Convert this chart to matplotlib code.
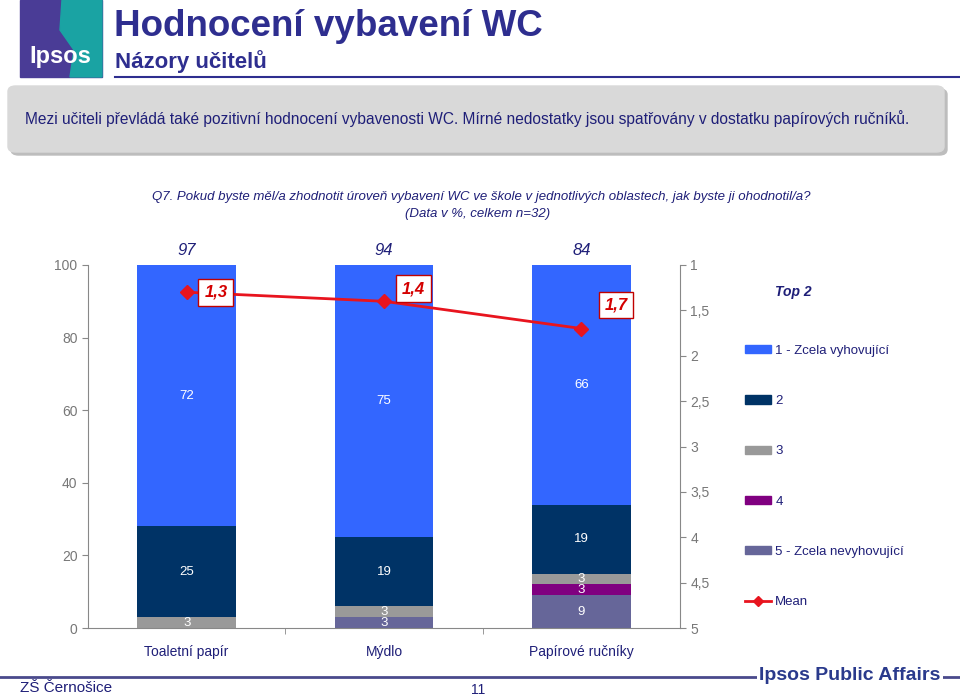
import numpy as np
import matplotlib
matplotlib.use('Agg')
import matplotlib.pyplot as plt
from matplotlib.patches import Rectangle, FancyBboxPatch, Polygon, Patch
from matplotlib.lines import Line2D

plt.rcParams['font.family'] = ['Liberation Sans', 'DejaVu Sans']

##########################
# data
##########################
categories = ['Toaletní papír', 'Mýdlo', 'Papírové ručníky']
levels = ['1 - Zcela vyhovující', '2', '3', '4', '5 - Zcela nevyhovující']
v1 = [72, 75, 66]
v2 = [25, 19, 19]
v3 = [3, 3, 3]
v4 = [0, 0, 3]
v5 = [0, 3, 9]
top2 = [97, 94, 84]
mean = [1.3, 1.4, 1.7]
mean_labels = ['1,3', '1,4', '1,7']
right_ticks = [1, 1.5, 2, 2.5, 3, 3.5, 4, 4.5, 5]
right_ticklabels = ['1', '1,5', '2', '2,5', '3', '3,5', '4', '4,5', '5']

colors = ['#3366ff', '#003366', '#999999', '#800080', '#666699']
navy = '#1f1f78'
title_col = '#2e2e8f'
axgray = '#888888'

##########################
# figure
##########################
W, H = 960, 696
fig = plt.figure(figsize=(9.6, 6.96), dpi=100)

def fx(px):
    return px / W

def fy(py):
    return 1 - py / H

# logo
fig.patches.append(Rectangle((fx(20), fy(77)), fx(82), 77 / H, transform=fig.transFigure,
                             color='#4a3c96', zorder=1))
fig.patches.append(Polygon([(fx(62), fy(0)), (fx(102), fy(0)), (fx(102), fy(77)),
                            (fx(70), fy(77)), (fx(74), fy(50)), (fx(60), fy(30))],
                           closed=True, transform=fig.transFigure, color='#1aa3a3', zorder=2))
fig.text(fx(60), fy(57), 'Ipsos', color='white', fontsize=17, fontweight='bold',
         ha='center', va='center', zorder=3)

# titles
fig.text(fx(114), fy(27), 'Hodnocení vybavení WC', color=title_col, fontsize=26.5,
         fontweight='bold', ha='left', va='center')
fig.text(fx(115), fy(62), 'Názory učitelů', color=title_col, fontsize=16,
         fontweight='bold', ha='left', va='center')
fig.add_artist(Line2D([fx(115), 1.0], [fy(77), fy(77)], color=title_col, lw=1.5))

# gray box
fig.patches.append(FancyBboxPatch((fx(11), fy(155)), fx(936), 66 / H,
                                  boxstyle='round,pad=0,rounding_size=0.008',
                                  transform=fig.transFigure, color='#bdbdbd', zorder=1))
fig.patches.append(FancyBboxPatch((fx(8), fy(152)), fx(936), 66 / H,
                                  boxstyle='round,pad=0,rounding_size=0.008',
                                  transform=fig.transFigure, color='#d9d9d9', zorder=2))
fig.text(fx(25), fy(119), 'Mezi učiteli převládá také pozitivní hodnocení vybavenosti WC. '
         'Mírné nedostatky jsou spatřovány v dostatku papírových ručníků.',
         color=navy, fontsize=11.2, ha='left', va='center', zorder=3)

# question
fig.text(fx(481), fy(197), 'Q7. Pokud byste měl/a zhodnotit úroveň vybavení WC ve škole '
         'v jednotlivých oblastech, jak byste ji ohodnotil/a?',
         color=navy, fontsize=9.5, style='italic', ha='center', va='center')
fig.text(fx(478), fy(214), '(Data v %, celkem n=32)', color=navy, fontsize=9.5,
         style='italic', ha='center', va='center')

##########################
# chart
##########################
ax = fig.add_axes([fx(88), fy(628), fx(592), 363 / H])
x = np.arange(len(categories))
stack = [v5, v4, v3, v2, v1]
stack_cols = [colors[4], colors[3], colors[2], colors[1], colors[0]]
bottom = np.zeros(len(categories))
for vals, c in zip(stack, stack_cols):
    vals = np.array(vals, dtype=float)
    ax.bar(x, vals, 0.5, bottom=bottom, color=c, zorder=2)
    for i in range(len(x)):
        if vals[i] > 0:
            ax.text(x[i], bottom[i] + vals[i] / 2, '%d' % vals[i], color='white',
                    fontsize=9.5, ha='center', va='center', zorder=3)
    bottom += vals

for i in range(len(x)):
    ax.text(x[i], 101.8, '%d' % top2[i], color=navy, fontsize=12, style='italic',
            ha='center', va='bottom')

ax.set_xlim(-0.5, 2.5)
ax.set_ylim(0, 100)
ax.set_yticks([0, 20, 40, 60, 80, 100])
ax.tick_params(axis='y', colors=axgray, labelsize=10, length=4, labelcolor='#777777')
ax.set_xticks(x)
ax.set_xticklabels(categories, color=navy, fontsize=10)
ax.tick_params(axis='x', length=0, pad=12)
ax.set_xticks([0.5, 1.5], minor=True)
ax.tick_params(axis='x', which='minor', length=4, color=axgray)
for s in ['top', 'right']:
    ax.spines[s].set_visible(False)
ax.spines['left'].set_color(axgray)
ax.spines['bottom'].set_color(axgray)

ax2 = ax.twinx()
ax2.set_ylim(5, 1)
ax2.set_yticks(right_ticks)
ax2.set_yticklabels(right_ticklabels)
ax2.tick_params(axis='y', colors=axgray, labelsize=10, length=4, labelcolor='#777777')
for s in ['top', 'left', 'bottom']:
    ax2.spines[s].set_visible(False)
ax2.spines['right'].set_color(axgray)
ax2.plot(x, mean, color='#e8141e', lw=2, marker='D', markersize=7, zorder=5)
offsets = [(21, 0), (21, 9), (25, 17)]
for i in range(len(x)):
    ax2.annotate(mean_labels[i], (x[i], mean[i]), xytext=offsets[i], textcoords='offset points',
                 color='#d40000', fontsize=12, fontweight='bold', style='italic',
                 ha='center', va='center', zorder=6,
                 bbox=dict(boxstyle='square,pad=0.35', fc='white', ec='#c00000', lw=1))

# legend
fig.text(fx(775), fy(292), 'Top 2', color=navy, fontsize=10, fontweight='bold',
         style='italic', ha='left', va='center')
handles = [Patch(color=c) for c in colors]
handles.append(Line2D([], [], color='#e8141e', lw=2, marker='D', markersize=5))
lg = fig.legend(handles, levels + ['Mean'], loc='upper left',
                bbox_to_anchor=(fx(733), fy(333)), frameon=False, fontsize=9.5,
                labelspacing=2.9, handlelength=2.0, handleheight=0.6, handletextpad=0.3)
for t in lg.get_texts():
    t.set_color(navy)

##########################
# footer
##########################
fig.add_artist(Line2D([0, 1], [fy(677), fy(677)], color='#4a4a8c', lw=2))
fig.text(fx(20), fy(688), 'ZŠ Černošice', color=navy, fontsize=11, ha='left', va='center')
fig.text(fx(478), fy(690), '11', color=navy, fontsize=10, ha='center', va='center')
fig.text(fx(850), fy(675), 'Ipsos Public Affairs', color='#2a3a8c', fontsize=14,
         fontweight='bold', ha='center', va='center',
         bbox=dict(fc='white', ec='none', pad=2))

fig.savefig('out.png', dpi=100)
